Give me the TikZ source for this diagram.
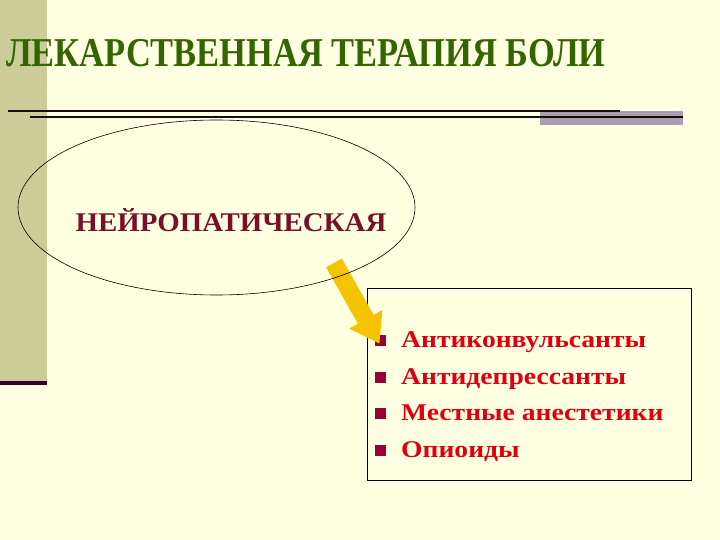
\documentclass[tikz,border=0pt]{standalone}
\usepackage{fontspec}
\setmainfont{Liberation Serif}
\usetikzlibrary{arrows.meta,shapes.geometric}
\definecolor{slidebg}{RGB}{255,255,226}
\definecolor{band}{RGB}{204,204,153}
\definecolor{bandline}{RGB}{51,0,51}
\definecolor{rulecol}{RGB}{26,10,10}
\definecolor{greyblock}{RGB}{168,160,176}
\definecolor{titlegreen}{RGB}{51,102,0}
\definecolor{maroon}{RGB}{122,16,40}
\definecolor{bulletred}{RGB}{153,0,51}
\definecolor{itemred}{RGB}{222,0,16}
\definecolor{arrowgold}{RGB}{245,195,0}
\tikzset{baseline=(current bounding box.center), >/.tip={Triangle[width=36pt,length=28pt]}}
\tikzset{
  sq/.style={fill=bulletred,minimum size=11pt,inner sep=0pt},
  item/.style={anchor=base west,inner sep=0pt,text=itemred,font=\fontsize{24}{24}\bfseries\selectfont}
}

\begin{document}
\begin{tikzpicture}[x=1pt,y=-1pt]
\fill[slidebg] (0,0) rectangle (720,540);
\useasboundingbox (0,0) rectangle (720,540);
\fill[band] (0,0) rectangle (47,382);
\fill[bandline] (0,381) rectangle (47,385);
\fill[greyblock] (540,111) rectangle (683,125);
\draw[rulecol,line width=2.5pt] (8,111) -- (620,111);
\draw[rulecol,line width=2.5pt] (30,117) -- (683,117);

\node[anchor=base west,inner sep=0pt,text=titlegreen,font=\fontsize{41}{41}\bfseries\selectfont] (title) at (6,67)
     {\scalebox{0.84}[1]{ЛЕКАРСТВЕННАЯ ТЕРАПИЯ БОЛИ}};

\node[draw=black,line width=0.8pt,minimum width=324pt,minimum height=192pt,anchor=north west] (drugs) at (367,288) {};
\node[sq] (b1) at (380.5,340) {};
\node[sq] (b2) at (380.5,377) {};
\node[sq] (b3) at (380.5,413.5) {};
\node[sq] (b4) at (380.5,450) {};
\node[item] (i1) at (401,347) {\scalebox{1.15}[1]{Антиконвульсанты}};
\node[item] (i2) at (401,384) {\scalebox{1.15}[1]{Антидепрессанты}};
\node[item] (i3) at (401,420.5) {\scalebox{1.15}[1]{Местные анестетики}};
\node[item] (i4) at (401,457) {\scalebox{1.15}[1]{Опиоиды}};

\coordinate (tail) at (334,263);
\draw[arrowgold,line width=18pt,->] (tail) -- ([xshift=-1pt,yshift=2pt]b1.south);

\node[draw=black,line width=0.6pt,ellipse,minimum width=397pt,minimum height=175pt] (neuro) at (216.5,207.5) {};
\node[anchor=base,inner sep=0pt,text=maroon,font=\fontsize{27}{27}\bfseries\selectfont] (neurolabel) at (231,231)
     {\scalebox{1.07}[1]{НЕЙРОПАТИЧЕСКАЯ}};
\end{tikzpicture}
\end{document}
